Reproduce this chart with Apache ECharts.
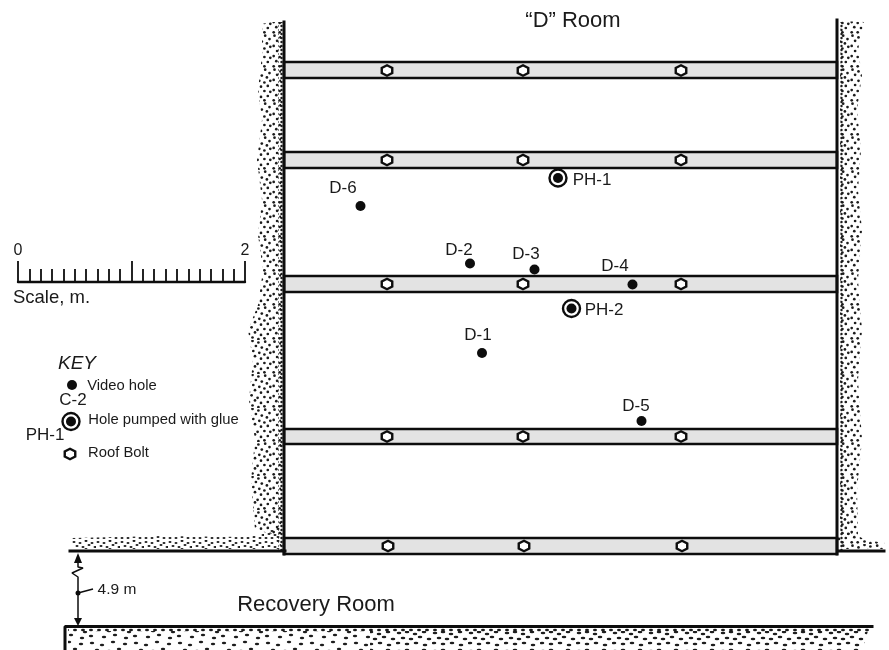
<!DOCTYPE html>
<html><head><meta charset="utf-8">
<style>html,body{margin:0;background:#fff}#c{width:889px;height:650px}</style>
<script src="https://cdn.jsdelivr.net/npm/echarts@6/dist/echarts.min.js"></script>
</head><body><div id="c"></div>
<script>
// ---- data (plan coordinates)
const strapBands = [[62,78],[152,168],[276,292],[429,444],[538,554]];
const strapSpan = [284,837];
const boltRows = [
  [[387,70.5],[523,70.5],[681,70.5]],
  [[387,160],[523,160],[681,160]],
  [[387,284],[523,284],[681,284]],
  [[387,436.5],[523,436.5],[681,436.5]],
  [[388,546],[524,546],[682,546]]
];
const videoHoles = [[482,353],[470,263.5],[534.5,269.5],[632.5,284.5],[641.5,421],[360.5,206]];
const glueHoles = [[558,178],[571.5,308.5]];
const holeLabels = [['D-1',478,335],['D-2',459,250],['D-3',526,254],['D-4',615,266],['D-5',636,406],['D-6',343,188],['PH-1',592,180],['PH-2',604,310]];
const roomLabels = [['\u201cD\u201d Room',573,21],['Recovery Room',316,605]];
const keyVideo = [[72,385]], keyGlue = [[71,421.5]], keyBolt = [[70,454]];
const keyTitle = [['KEY',77,364]];
const keyEntries = [['Video hole',122,386],['Hole pumped with glue',163.5,420],['Roof Bolt',118.5,453]];
const keyTags = [['C-2',73,400],['PH-1',45,435]];
const scaleCaption = [['Scale, m.',51.5,298]];
const spanLabel = [['4.9 m',117,590]];
const wallLines = [
  [[284,22],[284,554]],
  [[837,20],[837,554]],
  [[70,551],[285,551]],
  [[838,551],[884,551]],
  [[65,650],[65,626.5],[872,626.5]]
];
const spanLine = [[78,558],[78,567],[83,568],[72,573],[78,577],[78,622]];
const spanLeader = [[78,593],[93,589]];
const stippleCoarse = [
  [[262,24],[270,22],[281,22],[281,305],[258,305],[263,270],[258,235],[262,200],[257,160],[262,120],[258,90],[262,55]],
  [[840,21],[864,22],[858,50],[862,75],[857,110],[861,150],[858,190],[862,230],[858,280],[862,330],[858,380],[862,440],[857,490],[858,535],[840,535]],
  [[258,305],[281,305],[281,536],[255,530],[251,480],[255,440],[249,400],[253,360],[248,330]],
  [[838,533],[852,533],[862,538],[872,541],[885,543],[885,549],[838,549]]
];
const stippleBand = [[[72,538],[160,536],[250,537],[270,530],[281,526],[281,549],[72,549]]];
const stippleColumns = [[[278,22],[283,22],[283,550],[278,550]],[[839,22],[843,22],[843,550],[839,550]]];
const floorSparse = [[[68,631],[370,631],[370,650],[68,650]]];
const floorDense = [[[370,631],[868,631],[862,650],[370,650]]];
const floorEdge = [[[68,628],[870,628],[870,632],[68,632]]];
const scaleTicks = ['0','2'];

// ---- fill textures for the rock hatching
function tile(w,h,dots,rx,ry){
  const c=document.createElement('canvas');c.width=w;c.height=h;
  const g=c.getContext('2d');g.fillStyle='#1c1c1c';
  dots.forEach(d=>{g.beginPath();g.ellipse(d[0],d[1],rx,ry,0,0,7);g.fill();});
  return c;
}
const coarseTile = tile(34,34,[[2.5,1.7],[8.5,3.4],[14.5,.9],[20.4,2.5],[27.2,1.7],[31.5,5.1],[5.1,6.8],[11.9,7.6],[17.9,6],[23.8,7.6],[28.9,9.4],[1.7,11.9],[8.5,12.8],[15.3,11],[21.3,12.8],[26.4,14.5],[32.3,12.8],[5.1,17],[11,17.9],[17,16.2],[23,18.7],[29.8,17.9],[1.7,22.1],[7.7,23],[13.6,21.3],[19.6,23.8],[26.4,23],[32.3,23.8],[4.3,27.2],[11,28],[17,26.4],[23,28.9],[29.8,28],[1.7,32.3],[7.7,32.3],[14.5,31.5],[20.4,33.2],[26.4,32.3]],1.35,1.35);
const bandTile = tile(24,12,[[2,2],[8,3],[14,1],[20,3],[5,6],[11,7],[17,5],[23,7],[2,10],[8,10],[14,9],[20,10]],1.5,1.1);
const columnTile = tile(4,4,[[1.5,2]],1.2,1.2);
const sparseTile = tile(44,20,[[4,3],[14,5],[25,2],[37,4],[9,10],[21,11],[31,9],[41,12],[3,16],[16,17],[27,15],[38,18]],2.2,1.3);
const denseTile = tile(36,18,[[3,3],[11,2],[19,4],[28,2],[7,8],[15,9],[24,7],[33,9],[2,13],[11,14],[20,13],[29,15]],2.3,1.3);
const edgeTile = tile(8,4,[[3,2]],2,1.2);

function polygons(name,list,pattern){
  return {type:'custom',name,coordinateSystem:'cartesian2d',silent:true,z:1,
    data:list.map((p,i)=>[i]),encode:{x:-1,y:-1},
    renderItem:(params,api)=>({type:'polygon',
      shape:{points:list[api.value(0)].map(q=>api.coord(q))},
      style:{fill:{image:pattern,repeat:'repeat'}}})};
}
function texts(name,list,size,extra){
  return {type:'scatter',name,symbolSize:0,silent:true,z:9,itemStyle:{opacity:1},
    data:list.map(t=>({name:t[0],value:[t[1],t[2]]})),
    label:Object.assign({show:true,position:'inside',formatter:'{b}',fontFamily:'Liberation Sans',fontSize:size,color:'#1a1a1a'},extra||{})};
}
const hex='path://M0 -10L8.66 -5L8.66 5L0 10L-8.66 5L-8.66 -5Z';
const ink='#0d0d0d';
const series=[
  polygons('rock',stippleCoarse,coarseTile),
  polygons('rock band',stippleBand,bandTile),
  polygons('rock face',stippleColumns,columnTile),
  polygons('floor sparse',floorSparse,sparseTile),
  polygons('floor dense',floorDense,denseTile),
  polygons('floor edge',floorEdge,edgeTile),
  {type:'custom',name:'straps',coordinateSystem:'cartesian2d',silent:true,z:3,
    data:strapBands.map((b,i)=>[i]),encode:{x:-1,y:-1},
    renderItem:(params,api)=>{
      const b=strapBands[api.value(0)];
      const a=api.coord([strapSpan[0],b[0]]),z=api.coord([strapSpan[1],b[1]]);
      return {type:'rect',shape:{x:a[0],y:a[1],width:z[0]-a[0],height:z[1]-a[1]},
        style:{fill:'#e3e3e3',stroke:ink,lineWidth:2.6}};
    }},
  ...wallLines.map((w,i)=>({type:'line',name:'wall'+i,data:w,symbol:'none',silent:true,z:4,
      lineStyle:{color:ink,width:3,cap:'square',opacity:1}})),
  {type:'line',name:'span',data:spanLine,symbol:'none',silent:true,z:4,lineStyle:{color:ink,width:1.5}},
  {type:'line',name:'leader',data:spanLeader,symbol:'none',silent:true,z:4,lineStyle:{color:ink,width:1.5}},
  {type:'scatter',name:'arrow up',data:[spanLine[0]],symbol:'triangle',symbolSize:[8,10],silent:true,z:5,itemStyle:{color:ink,opacity:1}},
  {type:'scatter',name:'arrow down',data:[spanLine[spanLine.length-1]],symbol:'triangle',symbolRotate:180,symbolSize:[8,8],silent:true,z:5,itemStyle:{color:ink,opacity:1}},
  {type:'scatter',name:'leader dot',data:[spanLeader[0]],symbolSize:5,silent:true,z:5,itemStyle:{color:ink,opacity:1}},
  {type:'scatter',name:'roof bolts',data:boltRows.flat().concat(keyBolt),symbol:hex,symbolSize:10.5,silent:true,z:6,
    itemStyle:{color:'#fff',borderColor:ink,borderWidth:2.4,opacity:1}},
  {type:'scatter',name:'glue ring',data:glueHoles.concat(keyGlue),symbol:'circle',symbolSize:17,silent:true,z:6,
    itemStyle:{color:'#fff',borderColor:ink,borderWidth:2.4,opacity:1}},
  {type:'scatter',name:'glue core',data:glueHoles.concat(keyGlue),symbolSize:10,silent:true,z:7,itemStyle:{color:ink,opacity:1}},
  {type:'scatter',name:'video holes',data:videoHoles.concat(keyVideo),symbolSize:10,silent:true,z:7,itemStyle:{color:ink,opacity:1}},
  texts('hole labels',holeLabels,17),
  texts('rooms',roomLabels,22),
  texts('key title',keyTitle,19,{fontStyle:'italic'}),
  texts('key',keyEntries,14.8),
  texts('key tags',keyTags,17),
  texts('caption',scaleCaption,18.5),
  texts('span label',spanLabel,15.5)
];
const chart=echarts.init(document.getElementById('c'));
chart.setOption({
  animation:false,backgroundColor:'#fff',
  grid:[{left:0,right:0,top:0,bottom:0},{left:18,top:200,width:227,height:82}],
  xAxis:[
    {type:'value',min:0,max:889,show:false},
    {type:'value',gridIndex:1,min:0,max:2,interval:1,
      axisLine:{show:true,onZero:false,lineStyle:{color:ink,width:2.4}},
      axisTick:{show:true,inside:true,length:21,lineStyle:{color:ink,width:1.8}},
      minorTick:{show:true,splitNumber:10,length:13,lineStyle:{color:ink,width:1.8}},
      splitLine:{show:false},
      axisLabel:{inside:true,margin:23,fontFamily:'Liberation Sans',fontSize:16,color:'#1a1a1a',
        formatter:v=>scaleTicks.includes(String(v))?String(v):''}}
  ],
  yAxis:[
    {type:'value',min:0,max:650,inverse:true,show:false},
    {type:'value',gridIndex:1,min:0,max:1,show:false}
  ],
  series
});
</script></body></html>
